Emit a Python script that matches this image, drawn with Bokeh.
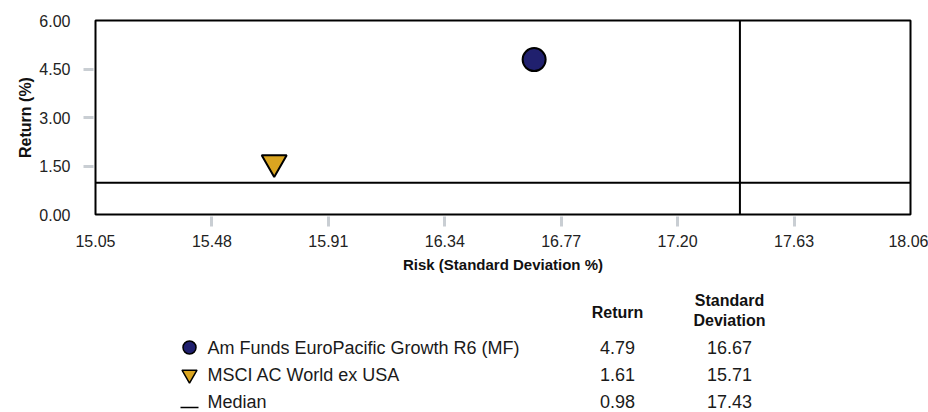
from bokeh.plotting import figure
from bokeh.models import Range1d, FixedTicker, NumeralTickFormatter, Span, ColumnDataSource
from bokeh.layouts import column
from bokeh.core.properties import value
from bokeh.embed import file_html
from bokeh.resources import INLINE

# ---- data ----
names = ["Am Funds EuroPacific Growth R6 (MF)", "MSCI AC World ex USA"]
returns = [4.79, 1.61]
std_devs = [16.67, 15.71]
markers = ["circle", "inverted_triangle"]
colors = ["#20206e", "#daa520"]
median_name = "Median"
median_return = 0.98
median_std = 17.43
x_ticks = [15.05, 15.48, 15.91, 16.34, 16.77, 17.20, 17.63, 18.06]
y_ticks = [0.00, 1.50, 3.00, 4.50, 6.00]
x_title = "Risk (Standard Deviation %)"
y_title = "Return (%)"
col_headers = ["Return", "Standard", "Deviation"]

FONT = "Liberation Sans"
TICK_GREY = "#c9ced3"
W = 928

# ---- chart ----
p = figure(width=W, height=284,
           x_range=Range1d(x_ticks[0], x_ticks[-1]), y_range=Range1d(y_ticks[0], y_ticks[-1]),
           output_backend="svg", toolbar_location=None,
           min_border_left=95, min_border_right=18, min_border_top=20, min_border_bottom=70)
p.xgrid.visible = False
p.ygrid.visible = False
p.outline_line_color = "black"
p.outline_line_width = 2
p.outline_line_alpha = 1
p.background_fill_color = "white"
p.border_fill_color = "white"

p.xaxis.ticker = FixedTicker(ticks=x_ticks, minor_ticks=x_ticks[1:-1])
p.yaxis.ticker = FixedTicker(ticks=y_ticks, minor_ticks=y_ticks[1:-1])
for ax in (p.xaxis, p.yaxis):
    ax.formatter = NumeralTickFormatter(format="0.00")
    ax.axis_line_color = None
    ax.major_tick_line_color = None
    ax.major_tick_in = 0
    ax.major_tick_out = 0
    ax.minor_tick_line_color = TICK_GREY
    ax.minor_tick_line_width = 3
    ax.minor_tick_in = -2
    ax.minor_tick_out = 12
    ax.major_label_text_font = FONT
    ax.major_label_text_font_size = "16px"
    ax.major_label_text_color = "#222222"
    ax.axis_label_text_font = FONT
    ax.axis_label_text_font_style = "bold"
    ax.axis_label_text_color = "#111111"

p.xaxis.major_label_standoff = 8
p.xaxis.axis_label = x_title
p.xaxis.axis_label_text_font_size = "15px"
p.xaxis.axis_label_standoff = 6
p.yaxis.major_label_standoff = 13
p.yaxis.axis_label = y_title
p.yaxis.axis_label_text_font_size = "16px"
p.yaxis.axis_label_standoff = 2

p.add_layout(Span(location=median_std, dimension="height", line_color="black", line_width=2))
p.add_layout(Span(location=median_return, dimension="width", line_color="black", line_width=2))

src = ColumnDataSource(dict(x=std_devs, y=returns, marker=markers, color=colors, size=[23, 25]))
p.scatter(x="x", y="y", marker="marker", size="size", fill_color="color",
          line_color="black", line_width=2, source=src)

# ---- legend table (frame aligned with chart frame: x from 95 to 910 px) ----
q = figure(width=W, height=128, x_range=Range1d(95, 910), y_range=Range1d(128, 0),
           output_backend="svg", toolbar_location=None,
           x_axis_location=None, y_axis_location=None,
           min_border=0, min_border_left=95, min_border_right=18, min_border_top=0, min_border_bottom=0)
q.xgrid.visible = False
q.ygrid.visible = False
q.outline_line_color = None

row_y = [63, 90, 117]
sym_x = 189
name_x = 207
ret_x = 617
sd_x = 729

# headers
q.text(x=[ret_x], y=[28], text=[col_headers[0]], text_align="center", text_baseline="middle",
       text_font=value(FONT), text_font_size="16px", text_font_style="bold", text_color="#111111")
q.text(x=[sd_x, sd_x], y=[16, 36], text=col_headers[1:], text_align="center", text_baseline="middle",
       text_font=value(FONT), text_font_size="16px", text_font_style="bold", text_color="#111111")

lsrc = ColumnDataSource(dict(x=[sym_x, sym_x], y=row_y[:2], marker=markers, color=colors, size=[13, 15]))
q.scatter(x="x", y="y", marker="marker", size="size", fill_color="color",
          line_color="black", line_width=1.5, source=lsrc)
q.segment(x0=[sym_x - 9], y0=[row_y[2] + 6], x1=[sym_x + 9], y1=[row_y[2] + 6],
          line_color="black", line_width=1.5)

all_names = names + [median_name]
all_rets = returns + [median_return]
all_sds = std_devs + [median_std]
q.text(x=[name_x] * 3, y=row_y, text=all_names, text_align="left", text_baseline="middle",
       text_font=value(FONT), text_font_size="18px", text_color="#1a1a1a")
q.text(x=[ret_x] * 3, y=row_y, text=[f"{v:.2f}" for v in all_rets], text_align="center",
       text_baseline="middle", text_font=value(FONT), text_font_size="18px", text_color="#1a1a1a")
q.text(x=[sd_x] * 3, y=row_y, text=[f"{v:.2f}" for v in all_sds], text_align="center",
       text_baseline="middle", text_font=value(FONT), text_font_size="18px", text_color="#1a1a1a")

layout = column(p, q)
open("out.html", "w").write(file_html(layout, INLINE))
